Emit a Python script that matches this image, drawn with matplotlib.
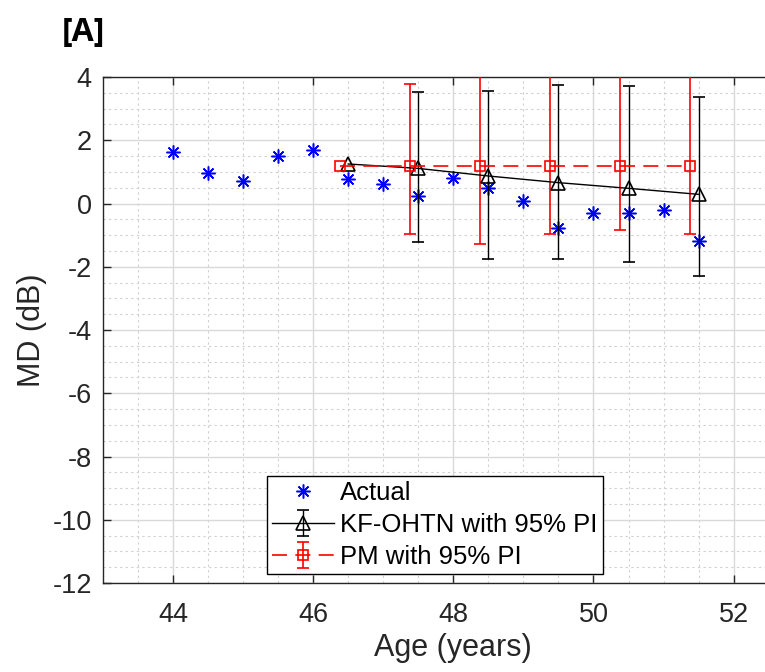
import numpy as np
import matplotlib.pyplot as plt
from matplotlib.ticker import MultipleLocator

plt.rcParams['font.family'] = ['Liberation Sans', 'DejaVu Sans']
plt.rcParams['axes.unicode_minus'] = False

# Datos
edad_real = [44, 44.5, 45, 45.5, 46, 46.5, 47, 47.5, 48, 48.5, 49, 49.5, 50, 50.5, 51, 51.5]
md_real = [1.64, 0.95, 0.71, 1.49, 1.68, 0.78, 0.62, 0.24, 0.82, 0.48, 0.08, -0.78,
           -0.31, -0.31, -0.21, -1.19]

edad_kf = [46.5, 47.5, 48.5, 49.5, 50.5, 51.5]
md_kf = [1.25, 1.11, 0.87, 0.66, 0.48, 0.29]
kf_sup = [np.nan, 3.52, 3.57, 3.76, 3.72, 3.38]
kf_inf = [np.nan, -1.23, -1.77, -1.77, -1.86, -2.29]

edad_pm = [46.38, 47.38, 48.38, 49.38, 50.38, 51.38]
md_pm = [1.2, 1.2, 1.2, 1.2, 1.2, 1.2]
pm_sup = [np.nan, 3.77, 4.4, 4.6, 4.6, 4.6]
pm_inf = [np.nan, -0.97, -1.27, -0.97, -0.84, -0.97]

fig = plt.figure(figsize=(7.65, 6.72), dpi=100)
ax = fig.add_axes([0.1346, 0.1324, 0.916, 0.753])

gris = '#262626'

ax.plot(edad_real, md_real, ls='none', marker=(8, 2, 0), ms=10, mew=1.1,
        color='blue', label='Actual', zorder=3)

md_kf_a = np.array(md_kf)
err_kf = [md_kf_a - np.array(kf_inf), np.array(kf_sup) - md_kf_a]
ax.errorbar(edad_kf, md_kf, yerr=err_kf, color='black', lw=1.0, elinewidth=1.0,
            capsize=4.5, capthick=1.0, marker='^', ms=10, mfc='none', mew=1.2,
            label='KF-OHTN with 95% PI', zorder=4)

md_pm_a = np.array(md_pm)
err_pm = [md_pm_a - np.array(pm_inf), np.array(pm_sup) - md_pm_a]
ax.errorbar(edad_pm, md_pm, yerr=err_pm, color='red', lw=1.2, elinewidth=1.2,
            capsize=4.5, capthick=1.2, marker='s', ms=7, mfc='none', mew=1.2,
            dashes=(9, 5), label='PM with 95% PI', zorder=4)

ax.set_xlim(43, 53)
ax.set_ylim(-12, 4)
ax.set_xticks([44, 46, 48, 50, 52])
ax.set_yticks(np.arange(-12, 5, 2))
ax.xaxis.set_minor_locator(MultipleLocator(0.5))
ax.yaxis.set_minor_locator(MultipleLocator(0.5))
ax.grid(which='major', color='#d9d9d9', lw=1.0)
ax.grid(which='minor', color='#cfcfcf', lw=0.8, ls=(0, (2, 3)))
ax.set_axisbelow(True)

ax.tick_params(which='major', direction='in', top=True, right=False, length=6,
               width=1.0, colors=gris, labelsize=19.5, pad=8)
ax.tick_params(axis='x', which='major', pad=14)
ax.tick_params(which='minor', length=0)
for s in ax.spines.values():
    s.set_color(gris)
    s.set_linewidth(1.0)

ax.set_xlabel('Age (years)', fontsize=22, color=gris, labelpad=3)
ax.set_ylabel('MD (dB)', fontsize=22, color=gris, labelpad=4)

leg = ax.legend(loc='lower left', bbox_to_anchor=(0.234, 0.018), fontsize=18.5,
                frameon=True, fancybox=False, framealpha=1, edgecolor='black',
                borderpad=0.2, labelspacing=0.3, handlelength=2.4,
                handletextpad=0.25, borderaxespad=0)
leg.get_frame().set_linewidth(1.0)

fig.text(0.081, 0.952, '[A]', fontsize=23, fontweight='bold', color='black',
         family=['Open Sans', 'DejaVu Sans'], va='center')

fig.savefig('out.png', dpi=100)
